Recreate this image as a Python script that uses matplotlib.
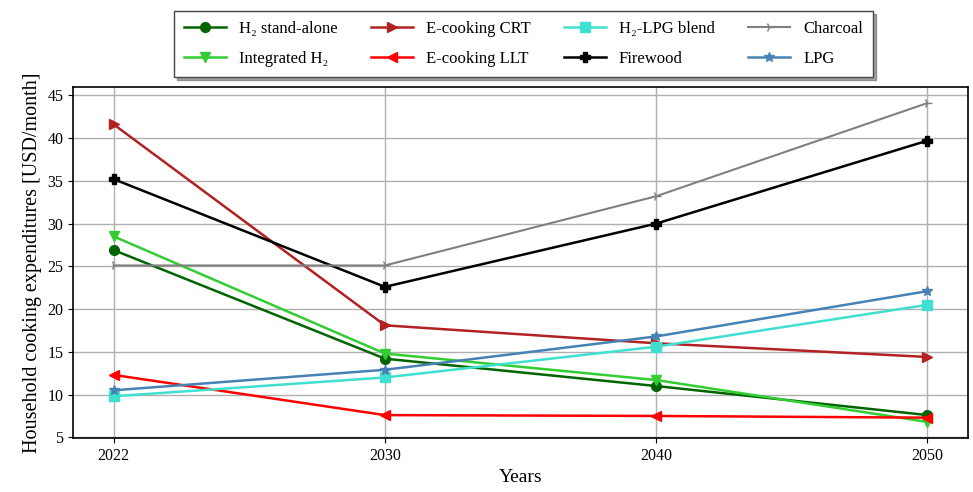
import matplotlib.pyplot as plt

plt.rcParams['font.family'] = ['Liberation Serif', 'DejaVu Serif']

years = ['2022', '2030', '2040', '2050']

h2_standalone = [26.9, 14.2, 11.0, 7.6]
integrated_h2 = [28.5, 14.8, 11.7, 6.8]
ecook_crt = [41.6, 18.1, 16.0, 14.4]
ecook_llt = [12.3, 7.6, 7.5, 7.3]
h2_lpg_blend = [9.8, 12.0, 15.6, 20.5]
firewood = [35.2, 22.6, 30.0, 39.7]
charcoal = [25.1, 25.1, 33.2, 44.1]
lpg = [10.5, 12.9, 16.8, 22.1]

series = [
  ("H₂ stand-alone", h2_standalone, "darkgreen", "o"),
  ("Integrated H₂", integrated_h2, "limegreen", "v"),
  ("E-cooking CRT", ecook_crt, "firebrick", ">"),
  ("E-cooking LLT", ecook_llt, "red", "<"),
  ("H₂-LPG blend", h2_lpg_blend, "turquoise", "s"),
  ("Firewood", firewood, "black", "P"),
  ("Charcoal", charcoal, "gray", "4"),
  ("LPG", lpg, "steelblue", "*"),
]

fig = plt.figure(figsize=(9.73, 4.92), dpi=100)
ax = fig.add_axes([0.075, 0.11, 0.92, 0.713])

for label, vals, color, marker in series:
  lw = 1.5 if label == "Charcoal" else 1.8
  ax.plot(years, vals, color=color, marker=marker, markersize=7, linewidth=lw, label=label)

ax.grid(True, color="#b0b0b0", linewidth=1.0)
ax.set_axisbelow(True)
ax.tick_params(labelsize=11.5)
ax.set_xlabel("Years", fontsize=14)
ax.set_ylabel("Household cooking expenditures [USD/month]", fontsize=14.5)
for s in ax.spines.values():
  s.set_linewidth(1.2)

fig.legend(loc="upper center", bbox_to_anchor=(0.538, 0.995), ncol=4, fontsize=12,
           shadow=True, fancybox=False, edgecolor="#444444", columnspacing=2.0,
           handlelength=2.5, labelspacing=0.85, borderpad=0.6)

fig.savefig("out.png", dpi=100)
